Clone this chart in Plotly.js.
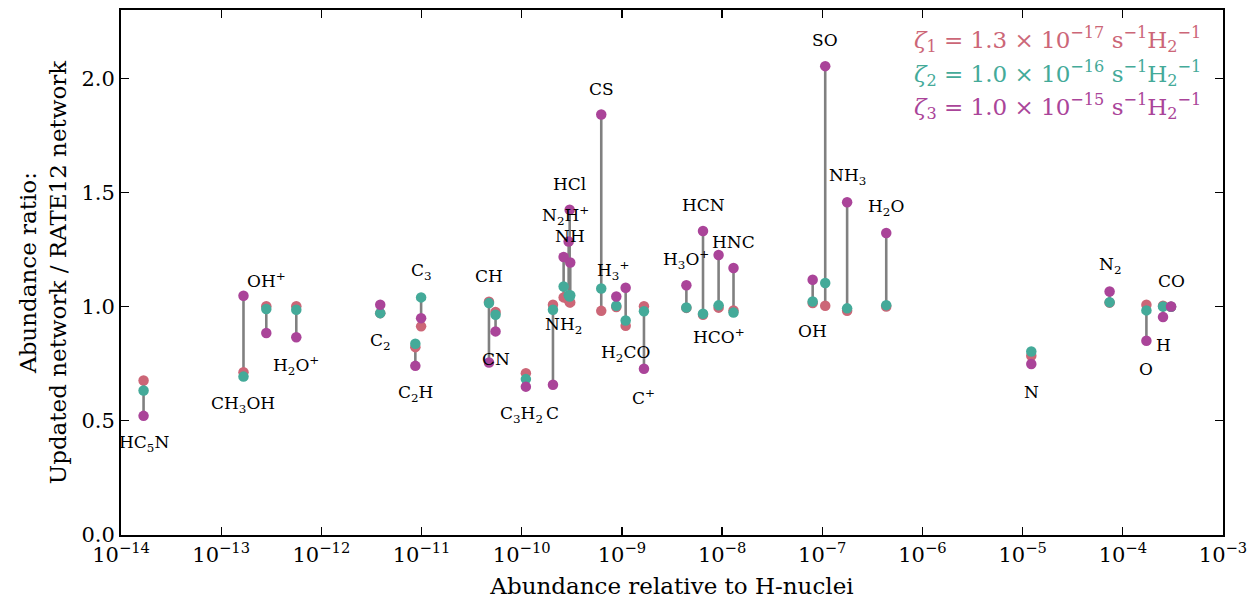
<!DOCTYPE html>
<html>
<head>
<meta charset="utf-8">
<script src="https://cdn.plot.ly/plotly-3.0.1.min.js"></script>
<style>html,body{margin:0;padding:0;background:#fff;}#chart{width:1254px;height:603px;}</style>
</head>
<body>
<div id="chart"></div>
<script>
// ---- data ----
const species = ["HC<sub>5</sub>N","CH<sub>3</sub>OH","OH<sup>+</sup>","H<sub>2</sub>O<sup>+</sup>","C<sub>2</sub>","C<sub>2</sub>H","C<sub>3</sub>","CH","CN","C<sub>3</sub>H<sub>2</sub>","C","NH<sub>2</sub>","N<sub>2</sub>H<sup>+</sup>","HCl","NH","CS","H<sub>3</sub><sup>+</sup>","H<sub>2</sub>CO","C<sup>+</sup>","H<sub>3</sub>O<sup>+</sup>","HCN","HCO<sup>+</sup>","HNC","OH","SO","NH<sub>3</sub>","H<sub>2</sub>O","N","N<sub>2</sub>","O","H","CO"];
const abundance = [1.68e-14,1.67e-13,2.82e-13,5.62e-13,3.87e-12,8.67e-12,9.9e-12,4.71e-11,5.48e-11,1.10e-10,2.05e-10,2.62e-10,2.94e-10,3.01e-10,3.05e-10,6.22e-10,8.79e-10,1.09e-9,1.66e-9,4.40e-9,6.45e-9,9.23e-9,1.30e-8,8.02e-8,1.07e-7,1.77e-7,4.35e-7,1.22e-5,7.38e-5,1.72e-4,2.52e-4,3.03e-4];
const ratioZeta1 = [0.677,0.713,1.002,1.002,0.972,0.823,0.914,1.022,0.977,0.709,1.009,1.041,1.030,1.020,1.019,0.982,0.999,0.917,1.002,0.995,0.965,0.996,0.984,1.016,1.004,0.982,1.001,0.785,1.018,1.009,1.004,1.000];
const ratioZeta2 = [0.633,0.694,0.990,0.987,0.972,0.838,1.041,1.016,0.965,0.683,0.987,1.089,1.050,1.045,1.050,1.080,1.004,0.940,0.980,0.997,0.969,1.006,0.975,1.023,1.104,0.993,1.007,0.804,1.020,0.984,1.001,1.000];
const ratioZeta3 = [0.522,1.048,0.885,0.866,1.009,0.741,0.950,0.756,0.892,0.650,0.658,1.218,1.286,1.425,1.194,1.842,1.045,1.083,0.728,1.094,1.332,1.227,1.170,1.118,2.054,1.458,1.323,0.749,1.067,0.851,0.955,1.001];
const labelSide = ["below","below","above","below","below","below","above","above","below","below","below","below","above","above","above","above","above","below","below","above","above","below","above","below","above","above","above","below","above","below","below","above"];
const xTickVals = [1e-14,1e-13,1e-12,1e-11,1e-10,1e-9,1e-8,1e-7,1e-6,1e-5,1e-4,1e-3];
const xTickText = ["10<sup>−14</sup>","10<sup>−13</sup>","10<sup>−12</sup>","10<sup>−11</sup>","10<sup>−10</sup>","10<sup>−9</sup>","10<sup>−8</sup>","10<sup>−7</sup>","10<sup>−6</sup>","10<sup>−5</sup>","10<sup>−4</sup>","10<sup>−3</sup>"];
const yTickVals = [0.0,0.5,1.0,1.5,2.0];
const legendTexts = [
  "<i>ζ</i><sub>1</sub> = 1.3 × 10<sup>−17</sup> s<sup>−1</sup>H<sub>2</sub><sup>−1</sup>",
  "<i>ζ</i><sub>2</sub> = 1.0 × 10<sup>−16</sup> s<sup>−1</sup>H<sub>2</sub><sup>−1</sup>",
  "<i>ζ</i><sub>3</sub> = 1.0 × 10<sup>−15</sup> s<sup>−1</sup>H<sub>2</sub><sup>−1</sup>"
];

// ---- styling ----
const colors = ["#CC6677","#44AA99","#AA4499"];
const FONT = "DejaVu Serif, Liberation Serif, serif";
const labelDx = {"C<sub>3</sub>H<sub>2</sub>": -4, "N<sub>2</sub>H<sup>+</sup>": -3, "H<sub>3</sub><sup>+</sup>": -3};

// connecting lines
const lx = [], ly = [];
abundance.forEach((a, i) => {
  const v = [ratioZeta1[i], ratioZeta2[i], ratioZeta3[i]];
  lx.push(a, a, null);
  ly.push(Math.min(...v), Math.max(...v), null);
});

const traces = [
  {x: lx, y: ly, mode: "lines", line: {color: "#808080", width: 2.6}, hoverinfo: "skip", showlegend: false},
];
[ratioZeta1, ratioZeta2, ratioZeta3].forEach((r, k) => {
  traces.push({x: abundance, y: r, mode: "markers", marker: {color: colors[k], size: 10.5, line: {width: 0}}, showlegend: false});
});

const annotations = species.map((s, i) => {
  const v = [ratioZeta1[i], ratioZeta2[i], ratioZeta3[i]];
  const up = labelSide[i] === "above";
  return {
    x: Math.log10(abundance[i]), y: up ? Math.max(...v) : Math.min(...v),
    xref: "x", yref: "y", text: s, showarrow: false,
    yshift: up ? 26 : -28, xshift: labelDx[s] || 0,
    font: {family: FONT, size: 17, color: "#000"}
  };
});
legendTexts.forEach((t, k) => {
  annotations.push({
    x: 0.982, y: [0.943, 0.880, 0.817][k], xref: "paper", yref: "paper",
    xanchor: "right", yanchor: "middle", showarrow: false, text: t,
    font: {family: FONT, size: 23, color: colors[k]}
  });
});

const layout = {
  width: 1254, height: 603,
  margin: {l: 121, r: 31, t: 10, b: 68},
  paper_bgcolor: "#fff", plot_bgcolor: "#fff",
  font: {family: FONT, size: 20, color: "#000"},
  showlegend: false,
  xaxis: {
    type: "log", range: [-14, -3], tickvals: xTickVals, ticktext: xTickText,
    ticks: "inside", ticklen: 8, tickwidth: 1.2, tickcolor: "#000",
    showline: true, linecolor: "#000", linewidth: 2, mirror: "ticks",
    showgrid: false, zeroline: false,
    tickfont: {family: FONT, size: 21},
    title: {text: "Abundance relative to H-nuclei", font: {family: FONT, size: 23}, standoff: 12}
  },
  yaxis: {
    range: [0, 2.3], tickvals: yTickVals, tickformat: ".1f",
    ticks: "inside", ticklen: 8, tickwidth: 1.2, tickcolor: "#000",
    showline: true, linecolor: "#000", linewidth: 2, mirror: "ticks",
    showgrid: false, zeroline: false,
    tickfont: {family: FONT, size: 21},
    title: {text: "Abundance ratio:<br>Updated network / RATE12 network", font: {family: FONT, size: 23}, standoff: 8}
  },
  annotations: annotations
};

Plotly.newPlot("chart", traces, layout, {displayModeBar: false, staticPlot: true});
</script>
</body>
</html>
